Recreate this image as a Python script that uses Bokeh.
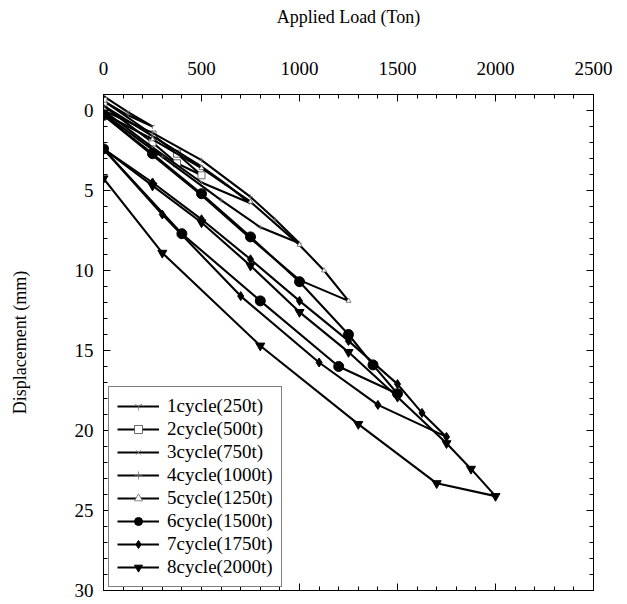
from bokeh.plotting import figure
from bokeh.models import Range1d, LinearAxis, SingleIntervalTicker, CustomJSTickFormatter
from bokeh.embed import file_html
from bokeh.resources import INLINE

# ---- data (load in ton, displacement in mm) ----
c1_load = [0, 125, 250, 125, 0]
c1_disp = [-0.9, 0.1, 1.0, 0.3, -0.6]

c2_load = [0, 250, 375, 500, 375, 250, 0]
c2_disp = [-0.6, 1.5, 2.7, 4.05, 3.3, 2.0, -0.3]

c3_load = [0, 250, 500, 625, 750, 500, 250, 0]
c3_disp = [-0.3, 1.6, 3.5, 4.6, 5.8, 4.5, 2.3, 0.0]

c4_load = [0, 250, 500, 750, 875, 1000, 800, 600, 300, 0]
c4_disp = [0.0, 1.4, 3.1, 5.4, 6.8, 8.3, 7.3, 5.6, 2.9, 0.2]

c5_load = [0, 250, 500, 750, 1000, 1125, 1250, 1000, 750, 500, 250, 0]
c5_disp = [0.2, 1.8, 3.6, 5.7, 8.4, 10.0, 11.9, 10.6, 8.0, 5.3, 2.8, 0.3]

c6_load = [0, 250, 500, 750, 1000, 1250, 1375, 1500, 1200, 800, 400, 0]
c6_disp = [0.3, 2.7, 5.2, 7.9, 10.7, 14.0, 15.9, 17.7, 16.0, 11.9, 7.7, 2.4]

c7_load = [0, 250, 500, 750, 1000, 1250, 1500, 1625, 1750, 1400, 1100, 700, 300, 0]
c7_disp = [2.4, 4.5, 6.8, 9.3, 11.9, 14.4, 17.1, 18.9, 20.4, 18.4, 15.75, 11.6, 6.5, 2.4]

c8_load = [0, 250, 500, 750, 1000, 1250, 1500, 1750, 1875, 2000, 1700, 1300, 800, 300, 0]
c8_disp = [2.4, 4.7, 7.0, 9.7, 12.6, 15.1, 17.9, 20.8, 22.4, 24.1, 23.3, 19.6, 14.7, 8.9, 4.25]

labels = ["1cycle(250t)", "2cycle(500t)", "3cycle(750t)", "4cycle(1000t)",
          "5cycle(1250t)", "6cycle(1500t)", "7cycle(1750t)", "8cycle(2000t)"]

x_ticks_interval = 500
y_ticks_interval = 5

FONT = "Liberation Serif"

p = figure(width=627, height=604, output_backend="svg", toolbar_location=None,
           x_range=Range1d(0, 2500), y_range=Range1d(30, -1),
           x_axis_location="above",
           min_border_left=103, min_border_right=34, min_border_top=94, min_border_bottom=14)

p.xgrid.visible = False
p.ygrid.visible = False
p.outline_line_color = "black"
p.outline_line_width = 1
p.background_fill_color = "white"
p.border_fill_color = "white"

xt = SingleIntervalTicker(interval=x_ticks_interval, num_minor_ticks=5)
yt = SingleIntervalTicker(interval=y_ticks_interval, num_minor_ticks=5)

p.xaxis[0].ticker = xt
p.yaxis[0].ticker = yt

blank = CustomJSTickFormatter(code="return ''")
right_ax = LinearAxis(ticker=yt, formatter=blank)
below_ax = LinearAxis(ticker=xt, formatter=blank)
p.add_layout(right_ax, "right")
p.add_layout(below_ax, "below")

for ax in [p.xaxis[0], p.yaxis[0], right_ax, below_ax]:
    ax.major_tick_in = 7
    ax.major_tick_out = 0
    ax.minor_tick_in = 4
    ax.minor_tick_out = 0
    ax.axis_line_color = "black"
    ax.major_tick_line_color = "black"
    ax.minor_tick_line_color = "black"
    ax.major_label_text_font = FONT
    ax.major_label_text_font_size = "19px"
    ax.major_label_text_color = "black"

for ax in [right_ax, below_ax]:
    ax.major_label_standoff = 0
    ax.major_label_text_font_size = "1px"

p.xaxis[0].axis_label = "Applied Load (Ton)"
p.xaxis[0].major_label_standoff = 20
p.xaxis[0].axis_label_standoff = 32
p.yaxis[0].axis_label = "Displacement (mm)"
p.yaxis[0].major_label_standoff = 10
p.yaxis[0].axis_label_standoff = 42
for ax in [p.xaxis[0], p.yaxis[0]]:
    ax.axis_label_text_font = FONT
    ax.axis_label_text_font_size = "18px"
    ax.axis_label_text_font_style = "normal"
    ax.axis_label_text_color = "black"

# (x, y, marker, size, fill, marker line colour, marker line width)
series = [
    (c1_load, c1_disp, "y", 5, "black", "#666666", 0.7),
    (c2_load, c2_disp, "square", 7, "white", "#444444", 0.8),
    (c3_load, c3_disp, "x", 5, "black", "#888888", 0.7),
    (c4_load, c4_disp, "cross", 5, "black", "#666666", 0.7),
    (c5_load, c5_disp, "triangle", 5, "white", "#555555", 0.7),
    (c6_load, c6_disp, "circle", 10, "black", "black", 1),
    (c7_load, c7_disp, "diamond", 9, "black", "black", 1),
    (c8_load, c8_disp, "inverted_triangle", 9, "black", "black", 1),
]

for (xs, ys, mk, sz, fill, mlc, mlw), lab in zip(series, labels):
    p.line(xs, ys, line_color="black", line_width=2.1, legend_label=lab)
    p.scatter(xs, ys, marker=mk, size=sz, line_color=mlc, fill_color=fill,
              line_width=mlw, legend_label=lab)

lg = p.legend[0]
lg.location = (5, 3)
lg.border_line_color = "black"
lg.border_line_width = 1
lg.background_fill_color = "white"
lg.background_fill_alpha = 1
lg.label_text_font = FONT
lg.label_text_font_size = "19px"
lg.label_text_color = "black"
lg.glyph_width = 42
lg.glyph_height = 20
lg.label_height = 20
lg.label_standoff = 8
lg.padding = 8
lg.spacing = 1
lg.margin = 0

open("out.html", "w").write(file_html(p, INLINE))
